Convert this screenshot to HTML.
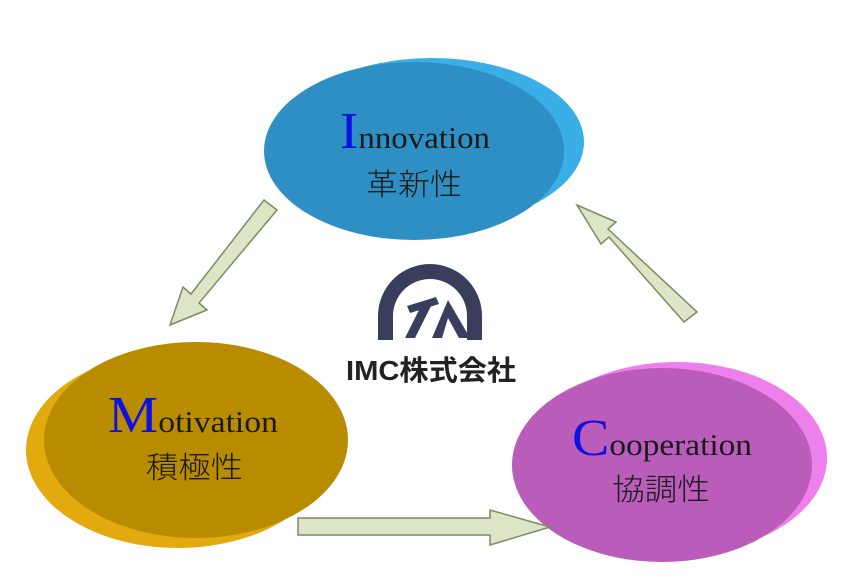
<!DOCTYPE html>
<html><head><meta charset="utf-8"><style>
html,body{margin:0;padding:0;background:#fff;}
svg{display:block}
.en{font-family:"Liberation Serif",serif;font-size:31px;fill:#1a1a1a}
.cap{fill:#1010e0;font-size:52px}
.jp{font-family:"Liberation Sans","Noto Sans CJK JP",sans-serif;font-size:30px;fill:#1a1a1a;font-weight:300}
</style></head><body>
<svg width="859" height="578" viewBox="0 0 859 578" xmlns="http://www.w3.org/2000/svg">
<ellipse cx="432" cy="142" rx="152" ry="84" fill="#3aaee6"/>
<ellipse cx="414" cy="151" rx="150" ry="89" fill="#2e8fc4"/>
<text x="340" y="148" class="en" textLength="150" lengthAdjust="spacingAndGlyphs"><tspan class="cap">I</tspan>nnovation</text>
<text x="366" y="195" class="jp" textLength="96" lengthAdjust="spacingAndGlyphs">革新性</text>
<ellipse cx="178" cy="450" rx="152" ry="98" fill="#e3aa10"/>
<ellipse cx="196" cy="440" rx="152" ry="98" fill="#b98c00"/>
<text x="108" y="432" class="en" textLength="170" lengthAdjust="spacingAndGlyphs"><tspan class="cap">M</tspan>otivation</text>
<text x="146" y="478" class="jp" textLength="97" lengthAdjust="spacingAndGlyphs">積極性</text>
<ellipse cx="677" cy="458" rx="150" ry="96" fill="#ee80ee"/>
<ellipse cx="662" cy="465" rx="150" ry="97" fill="#ba5cba"/>
<text x="572" y="455" class="en" textLength="180" lengthAdjust="spacingAndGlyphs"><tspan class="cap">C</tspan>ooperation</text>
<text x="612" y="500" class="jp" textLength="98" lengthAdjust="spacingAndGlyphs">協調性</text>
<g fill="#dce6c6" stroke="#7d8a62" stroke-width="1.5">
<polygon points="298,518 490,518 490,510 550,527 490,545 490,535 298,535"/>
<polygon points="264,200 277,210 199,303 207,310 170,325 183,287 191,294"/>
<polygon points="697,312 684,322 609,237 601,244 577,205 616,222 608,229"/>
</g>
<path d="M378,340 L378,316 A52,52 0 0 1 482,316 L482,340 L467,340 L467,316 A37,37 0 0 0 393,316 L393,340 Z" fill="#3a3d5c"/>
<polygon points="405,338 421,306 431,306 415,338" fill="#3a3d5c"/>
<polygon points="407,306 436,297 439,304 410,313" fill="#3a3d5c"/>
<polygon points="432,338 448,300 470,338 459,338 448,318 442,338" fill="#3a3d5c"/>
<text x="346" y="380" font-family="'Liberation Sans','Noto Sans CJK JP',sans-serif" font-size="28" font-weight="bold" fill="#222" textLength="170" lengthAdjust="spacingAndGlyphs">IMC株式会社</text>
</svg>
</body></html>
